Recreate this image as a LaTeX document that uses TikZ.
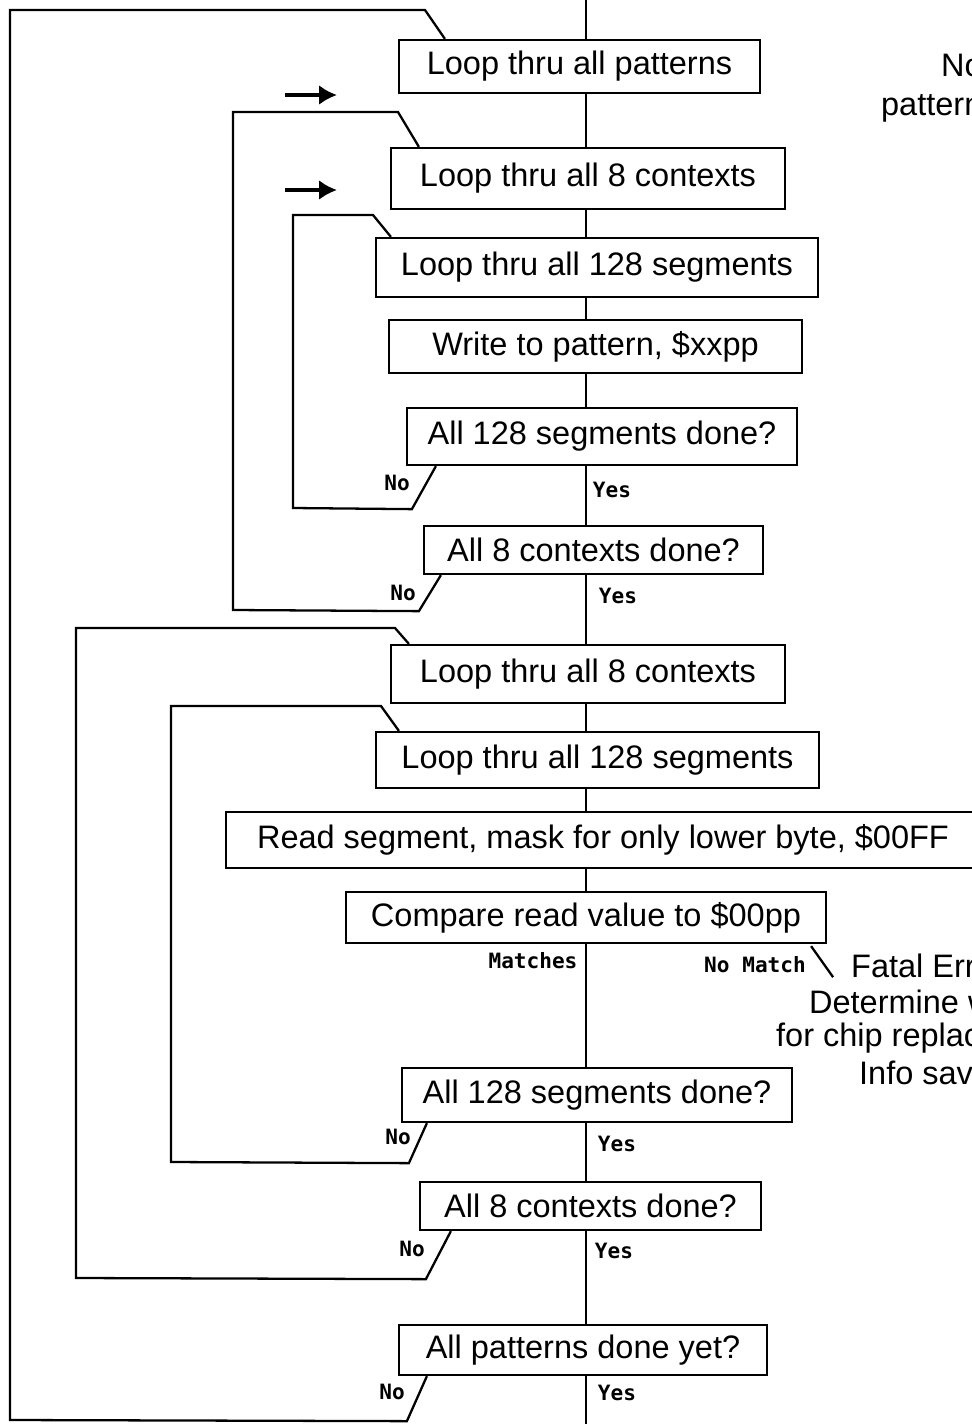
\documentclass[tikz,border=0pt]{standalone}
\usepackage{fontspec}
\setmainfont{Liberation Sans}
\newfontfamily\labelfont{DejaVu Sans Mono}
\usetikzlibrary{arrows.meta,calc}
\tikzset{
  flow/.style={line width=1.3pt,line join=miter},
  stepbox/.style={draw,line width=1.3pt,fill=white,inner sep=0pt,
    font=\fontsize{18.5}{22}\selectfont},
  ans/.style={font=\labelfont\bfseries\fontsize{12}{13}\selectfont,inner sep=0pt},
  note/.style={font=\fontsize{18.5}{22}\selectfont,inner sep=0pt,anchor=west},
  push/.style={-{Latex[length=3.6mm,width=4mm]},line width=2pt},
}

\begin{document}
\begin{tikzpicture}[flow,x=0.02cm,y=-0.02cm]
\useasboundingbox (0,0) rectangle (972,1424);
\clip (0,0) rectangle (972,1424);
% write phase
\node[stepbox,minimum width=7.22cm,minimum height=1.06cm] (b1) at (579.5,66.5) {Loop thru all patterns};
\node[stepbox,minimum width=7.88cm,minimum height=1.22cm] (b2) at (588,178.5) {Loop thru all 8 contexts};
\node[stepbox,minimum width=8.84cm,minimum height=1.18cm] (b3) at (597,267.5) {Loop thru all 128 segments};
\node[stepbox,minimum width=8.26cm,minimum height=1.06cm] (b4) at (595.5,346.5) {Write to pattern, \$xxpp};
\node[stepbox,minimum width=7.80cm,minimum height=1.14cm] (b5) at (602,436.5) {All 128 segments done?};
\node[stepbox,minimum width=6.78cm,minimum height=0.96cm] (b6) at (593.5,550) {All 8 contexts done?};
% read-back phase
\node[stepbox,minimum width=7.88cm,minimum height=1.16cm] (b7) at (588,674) {Loop thru all 8 contexts};
\node[stepbox,minimum width=8.86cm,minimum height=1.12cm] (b8) at (597.5,760) {Loop thru all 128 segments};
\node[stepbox,minimum width=15.08cm,minimum height=1.12cm] (b9) at (603,840) {Read segment, mask for only lower byte, \$00FF};
\node[stepbox,minimum width=9.60cm,minimum height=1.02cm] (b10) at (586,917.5) {Compare read value to \$00pp};
\node[stepbox,minimum width=7.80cm,minimum height=1.08cm] (b11) at (597,1095) {All 128 segments done?};
\node[stepbox,minimum width=6.82cm,minimum height=0.96cm] (b12) at (590.5,1206) {All 8 contexts done?};
\node[stepbox,minimum width=7.36cm,minimum height=1.00cm] (b13) at (583,1350) {All patterns done yet?};

% main line
\coordinate (spine) at (586,0);
\coordinate (spineend) at (586,1424);
\draw (spine) -- (b1.north -| spine);
\foreach \a/\b in {b1/b2,b2/b3,b3/b4,b4/b5,b5/b6,b6/b7,b7/b8,b8/b9,b9/b10,b10/b11,b11/b12,b12/b13}
  \draw (\a.south -| spine) -- (\b.north -| spine);
\draw (b13.south -| spine) -- (spineend);

% loops back
\draw ($(b13.south west)+(29,0)$) -- ++(-20,45) -- (10,1420) -- (10,10) -- (425,10) -- ($(b1.north west)+(47,0)$);
\draw ($(b6.south west)+(18,0)$) -- ++(-22,36) -- (233,610) -- (233,112) -- (398,112) -- ($(b2.north west)+(29,0)$);
\draw ($(b5.south west)+(30,0)$) -- ++(-24,43) -- (293,508) -- (293,215) -- (373,215) -- ($(b3.north west)+(16,0)$);
\draw ($(b12.south west)+(32,0)$) -- ++(-25,48) -- (76,1278) -- (76,628) -- (395,628) -- ($(b7.north west)+(19,0)$);
\draw ($(b11.south west)+(26,0)$) -- ++(-18,40) -- (171,1162) -- (171,706) -- (381,706) -- ($(b8.north west)+(24,0)$);
\draw ($(b10.south east)+(-16,2)$) -- ++(22,31);

% entry arrows
\coordinate (in1) at (285,95);
\coordinate (in2) at (285,190);
\draw[push] (in1) -- ++(52,0);
\draw[push] (in2) -- ++(52,0);

% branch labels
\node[ans] (no5) at (397,483) {No};
\node[ans] (yes5) at (612,490) {Yes};
\node[ans] (no6) at (403,593) {No};
\node[ans] (yes6) at (618,596) {Yes};
\node[ans] (match) at (533,961) {Matches};
\node[ans] (nomatch) at (755,965) {No Match};
\node[ans] (no11) at (398,1137) {No};
\node[ans] (yes11) at (617,1144) {Yes};
\node[ans] (no12) at (412,1249) {No};
\node[ans] (yes12) at (614,1251) {Yes};
\node[ans] (no13) at (392,1392) {No};
\node[ans] (yes13) at (617,1393) {Yes};

% side notes
\node[note] (side1) at (940,65) {No};
\node[note] (side2) at (880,108) {pattern};
\node[note] (fatal1) at (850,966) {Fatal Err};
\node[note] (fatal2) at (808,1002) {Determine w};
\node[note] (fatal3) at (775,1038) {for chip replac};
\node[note] (fatal4) at (858,1073) {Info save};
\end{tikzpicture}
\end{document}
